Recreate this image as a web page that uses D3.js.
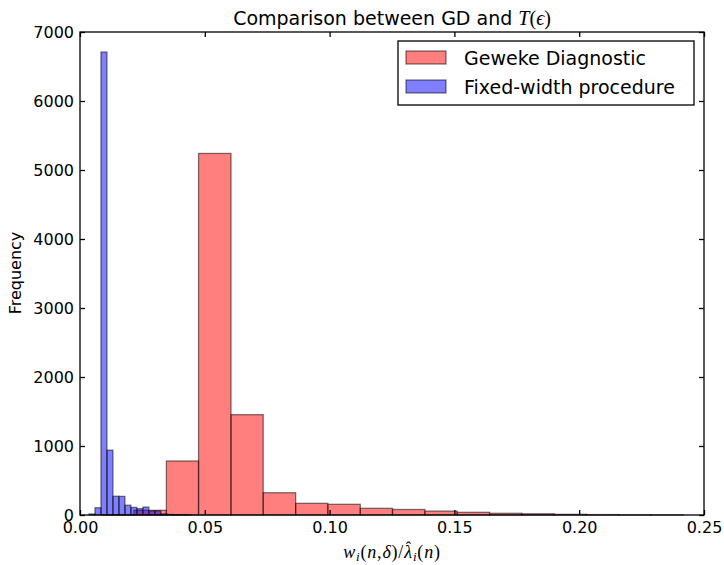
<!DOCTYPE html>
<html>
<head>
<meta charset="utf-8">
<script src="https://cdn.jsdelivr.net/npm/d3@7"></script>
<style>
  body { margin: 0; background: #fff; }
  svg { display: block; font-family: "DejaVu Sans", sans-serif; }
  .axis text { font-size: 16px; fill: #000; font-family: "DejaVu Sans", sans-serif; }
  .axis line { stroke: #000; stroke-width: 1.3; }
  .math { font-family: "Liberation Serif", serif; }
</style>
</head>
<body>
<svg id="chart"></svg>
<script>
// Geweke Diagnostic histogram: bin left edges, last edge, counts
const gdEdges = [0.0087, 0.0216, 0.0346, 0.0475, 0.0605, 0.0734, 0.0864, 0.0993, 0.1123,
                 0.1252, 0.1382, 0.1511, 0.1641, 0.1770, 0.1900, 0.2029, 0.2159, 0.2288, 0.2418];
const gdCounts = [5, 68, 783, 5240, 1454, 323, 169, 155, 97, 80, 57, 39, 25, 18, 10, 6, 3, 2];

// Fixed-width procedure histogram
const fwEdges = [0.0036, 0.0060, 0.0084, 0.0108, 0.0132, 0.0156, 0.0180, 0.0204, 0.0228,
                 0.0252, 0.0276, 0.0300, 0.0324, 0.0348, 0.0372, 0.0396, 0.0420, 0.0444];
const fwCounts = [15, 105, 6710, 940, 272, 270, 142, 110, 92, 115, 60, 60, 15, 8, 5, 3, 2];

const xTicks = [0, 0.05, 0.10, 0.15, 0.20, 0.25];
const yTicks = [0, 1000, 2000, 3000, 4000, 5000, 6000, 7000];

const width = 724, height = 565;
const plotL = 80, plotR = 704, plotT = 32, plotB = 515;

const svg = d3.select("#chart").attr("width", width).attr("height", height);

const x = d3.scaleLinear().domain([0, 0.25]).range([plotL, plotR]);
const y = d3.scaleLinear().domain([0, 7000]).range([plotB, plotT]);

function bins(edges, counts) {
  return counts.map((c, i) => ({ x0: edges[i], x1: edges[i + 1], n: c }));
}

function drawHist(data, color) {
  svg.append("g").selectAll("rect")
    .data(data)
    .enter()
    .append("rect")
    .attr("x", d => x(d.x0))
    .attr("width", d => x(d.x1) - x(d.x0))
    .attr("y", d => y(d.n))
    .attr("height", d => y(0) - y(d.n))
    .attr("fill", color)
    .attr("fill-opacity", 0.5)
    .attr("stroke", "#000")
    .attr("stroke-opacity", 0.5)
    .attr("stroke-width", 1.3);
}

drawHist(bins(gdEdges, gdCounts), "#ff0000");
drawHist(bins(fwEdges, fwCounts), "#0000ff");

// axes, ticks pointing inward on all sides
svg.append("g").attr("class", "axis")
  .attr("transform", `translate(0,${plotB})`)
  .call(d3.axisBottom(x).tickValues(xTicks).tickFormat(d3.format(".2f")).tickSize(-5).tickPadding(7))
  .call(g => g.select(".domain").remove());
svg.append("g").attr("class", "axis")
  .attr("transform", `translate(0,${plotT})`)
  .call(d3.axisTop(x).tickValues(xTicks).tickFormat("").tickSize(-5))
  .call(g => g.select(".domain").remove());
svg.append("g").attr("class", "axis")
  .attr("transform", `translate(${plotL},0)`)
  .call(d3.axisLeft(y).tickValues(yTicks).tickFormat(d3.format("d")).tickSize(-5).tickPadding(6))
  .call(g => g.select(".domain").remove());
svg.append("g").attr("class", "axis")
  .attr("transform", `translate(${plotR},0)`)
  .call(d3.axisRight(y).tickValues(yTicks).tickFormat("").tickSize(-5))
  .call(g => g.select(".domain").remove());

svg.append("rect")
  .attr("x", plotL).attr("y", plotT)
  .attr("width", plotR - plotL).attr("height", plotB - plotT)
  .attr("fill", "none").attr("stroke", "#000").attr("stroke-width", 1.3);

// title
const title = svg.append("text")
  .attr("x", (plotL + plotR) / 2).attr("y", 25)
  .attr("text-anchor", "middle").attr("font-size", 19);
title.append("tspan").text("Comparison between GD and ");
title.append("tspan").attr("class", "math").attr("font-style", "italic").attr("font-size", 20).text("T");
title.append("tspan").attr("class", "math").attr("font-size", 20).text("(");
title.append("tspan").attr("class", "math").attr("font-style", "italic").attr("font-size", 20).text("ϵ");
title.append("tspan").attr("class", "math").attr("font-size", 20).text(")");

// y label
svg.append("text")
  .attr("transform", "translate(21,273) rotate(-90)")
  .attr("text-anchor", "middle").attr("font-size", 16)
  .text("Frequency");

// x label: w_i(n,δ)/λ̂_i(n)
const xl = svg.append("text").attr("class", "math")
  .attr("x", (plotL + plotR) / 2).attr("y", 558)
  .attr("text-anchor", "middle").attr("font-size", 18)
  .attr("letter-spacing", 0.8);
xl.append("tspan").attr("font-style", "italic").text("w");
xl.append("tspan").attr("font-style", "italic").attr("font-size", 13).attr("dy", 3).text("i");
xl.append("tspan").attr("dy", -3).text("(");
xl.append("tspan").attr("font-style", "italic").text("n");
xl.append("tspan").text(",");
xl.append("tspan").attr("font-style", "italic").text("δ");
xl.append("tspan").text(")/");
xl.append("tspan").attr("font-style", "italic").text("λ");
xl.append("tspan").attr("font-size", 16).attr("dx", -7).attr("dy", -5).text("ˆ");
xl.append("tspan").attr("font-style", "italic").attr("font-size", 13).attr("dx", 1).attr("dy", 8).text("i");
xl.append("tspan").attr("dy", -3).text("(");
xl.append("tspan").attr("font-style", "italic").text("n");
xl.append("tspan").text(")");

// legend
const legendItems = [
  { label: "Geweke Diagnostic", color: "#ff0000" },
  { label: "Fixed-width procedure", color: "#0000ff" }
];
const lg = svg.append("g");
lg.append("rect")
  .attr("x", 398).attr("y", 41).attr("width", 296).attr("height", 64)
  .attr("fill", "#fff").attr("stroke", "#000").attr("stroke-width", 1.3);
legendItems.forEach((d, i) => {
  const yy = 51 + i * 29;
  lg.append("rect")
    .attr("x", 406).attr("y", yy).attr("width", 40).attr("height", 13)
    .attr("fill", d.color).attr("fill-opacity", 0.5)
    .attr("stroke", "#000").attr("stroke-opacity", 0.5).attr("stroke-width", 1.3);
  lg.append("text")
    .attr("x", 464).attr("y", yy + 14)
    .attr("font-size", 19)
    .text(d.label);
});
</script>
</body>
</html>
